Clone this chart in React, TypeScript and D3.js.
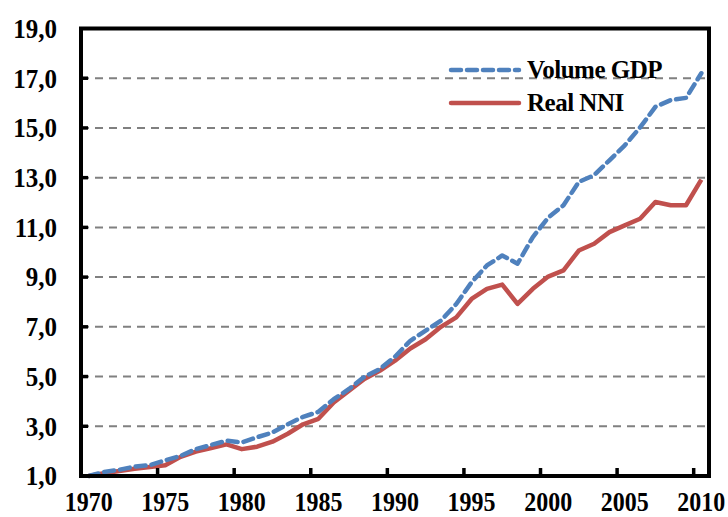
import React, { useEffect, useRef } from "react";
import * as d3 from "d3";

const years = d3.range(1970, 2011);

const volumeGdp = [
  1.0, 1.16, 1.25, 1.38, 1.44, 1.63, 1.81, 2.08, 2.25, 2.42, 2.35,
  2.56, 2.75, 3.08, 3.38, 3.58, 4.09, 4.5, 4.99, 5.3, 5.8,
  6.44, 6.85, 7.25, 7.92, 8.79, 9.47, 9.87, 9.54, 10.61, 11.39,
  11.89, 12.83, 13.1, 13.7, 14.3, 15.02, 15.85, 16.12, 16.21, 17.2,
];

const realNni = [
  1.0, 1.11, 1.2, 1.29, 1.36, 1.43, 1.77, 1.98, 2.12, 2.27, 2.08,
  2.18, 2.38, 2.7, 3.08, 3.3, 3.96, 4.43, 4.9, 5.23, 5.64,
  6.13, 6.5, 7.0, 7.38, 8.12, 8.53, 8.7, 7.92, 8.53, 9.02,
  9.27, 10.07, 10.34, 10.81, 11.08, 11.35, 12.02, 11.89, 11.89, 12.92,
];

const yTicks = [1, 3, 5, 7, 9, 11, 13, 15, 17, 19];
const xLabelYears = [1970, 1975, 1980, 1985, 1990, 1995, 2000, 2005, 2010];
const xTickYears = [1975, 1980, 1985, 1990, 1995, 2000, 2005, 2010];

const seriesNames = ["Volume GDP", "Real NNI"];

export default function App() {
  const ref = useRef<SVGSVGElement>(null);

  useEffect(() => {
    const svg = d3.select(ref.current);
    svg.selectAll("*").remove();

    const left = 81, right = 709, top = 28.5, bottom = 476;
    const font = "'Liberation Serif', 'Times New Roman', serif";

    const x = d3.scaleBand<number>().domain(years).range([left, right]).padding(0);
    const cx = (yr: number) => (x(yr) as number) + x.bandwidth() / 2;
    const y = d3.scaleLinear().domain([1, 19]).range([bottom, top]);

    // gridlines
    svg.append("g")
      .selectAll("line")
      .data(yTicks.filter(d => d > 1 && d < 19))
      .enter().append("line")
      .attr("x1", left).attr("x2", right)
      .attr("y1", d => y(d)).attr("y2", d => y(d))
      .attr("stroke", "#808080")
      .attr("stroke-width", 2)
      .attr("stroke-dasharray", "8,6");

    // series
    const line = d3.line<number>()
      .x((_, i) => cx(years[i]))
      .y(d => y(d));

    svg.append("path")
      .datum(realNni)
      .attr("d", line)
      .attr("fill", "none")
      .attr("stroke", "#C0504D")
      .attr("stroke-width", 4.5)
      .attr("stroke-linejoin", "round");

    svg.append("path")
      .datum(volumeGdp)
      .attr("d", line)
      .attr("fill", "none")
      .attr("stroke", "#4F81BD")
      .attr("stroke-width", 4.5)
      .attr("stroke-dasharray", "10,6")
      .attr("stroke-linecap", "round")
      .attr("stroke-linejoin", "round");

    // frame
    svg.append("rect")
      .attr("x", left).attr("y", top)
      .attr("width", right - left).attr("height", bottom - top)
      .attr("fill", "none")
      .attr("stroke", "#000")
      .attr("stroke-width", 4);

    // y ticks + labels
    svg.append("g")
      .selectAll("line")
      .data(yTicks.filter(d => d > 1 && d < 19))
      .enter().append("line")
      .attr("x1", left).attr("x2", left + 7)
      .attr("y1", d => y(d)).attr("y2", d => y(d))
      .attr("stroke", "#000").attr("stroke-width", 3.5);

    svg.append("g")
      .selectAll("text")
      .data(yTicks)
      .enter().append("text")
      .attr("transform", d => `translate(57,${y(d)}) scale(1,1.06)`)
      .attr("dy", "0.35em")
      .attr("text-anchor", "end")
      .attr("font-family", font)
      .attr("font-weight", "bold")
      .attr("font-size", 25)
      .text(d => d3.format(".1f")(d).replace(".", ","));

    // x ticks + labels
    svg.append("g")
      .selectAll("line")
      .data(xTickYears)
      .enter().append("line")
      .attr("x1", d => x(d) as number).attr("x2", d => x(d) as number)
      .attr("y1", bottom).attr("y2", bottom - 8)
      .attr("stroke", "#000").attr("stroke-width", 3.5);

    svg.append("g")
      .selectAll("text")
      .data(xLabelYears)
      .enter().append("text")
      .attr("transform", d => `translate(${cx(d)},511) scale(1,1.1)`)
      .attr("text-anchor", "middle")
      .attr("font-family", font)
      .attr("font-weight", "bold")
      .attr("font-size", 24)
      .text(d => d);

    // legend
    const legend = svg.append("g");
    const legendY = [70, 103];
    legend.append("line")
      .attr("x1", 451).attr("x2", 519)
      .attr("y1", legendY[0]).attr("y2", legendY[0])
      .attr("stroke", "#4F81BD").attr("stroke-width", 4.5)
      .attr("stroke-dasharray", "10,6").attr("stroke-linecap", "round");
    legend.append("line")
      .attr("x1", 451).attr("x2", 519)
      .attr("y1", legendY[1]).attr("y2", legendY[1])
      .attr("stroke", "#C0504D").attr("stroke-width", 4.5)
      .attr("stroke-linecap", "round");
    legend.selectAll("text")
      .data(seriesNames)
      .enter().append("text")
      .attr("x", 527)
      .attr("y", (_, i) => legendY[i] + 8)
      .attr("font-family", font)
      .attr("font-weight", "bold")
      .attr("font-size", 25)
      .attr("letter-spacing", -0.5)
      .text(d => d);
  }, []);

  return (
    <svg
      ref={ref}
      width={728}
      height={517}
      style={{ position: "absolute", left: 0, top: 0, background: "#fff" }}
    />
  );
}
